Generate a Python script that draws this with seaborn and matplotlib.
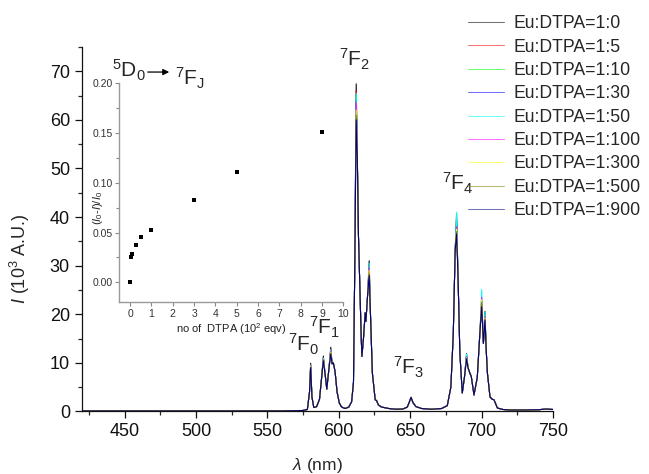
import numpy as np
import pandas as pd
import matplotlib
matplotlib.use("Agg")
import matplotlib.pyplot as plt
import seaborn as sns
from matplotlib.ticker import MultipleLocator

# -----------------------------
# data
# -----------------------------
ratios = ["1:0", "1:5", "1:10", "1:30", "1:50", "1:100", "1:300", "1:500", "1:900"]
colors = ["#000000", "#ff0000", "#00ff00", "#0000ff", "#00ffff",
          "#ff00ff", "#ffff00", "#808000", "#000080"]

# emission spectrum of Eu:DTPA=1:0 (wavelength nm, intensity 10^3 A.U.)
wl = [420, 440, 460, 480, 500, 520, 540, 560, 570, 575, 578, 579.5, 580.3, 581.2,
      582.5, 584.5, 586.5, 588.0, 589.2, 590.5, 591.6, 593.0, 594.4, 595.3, 596.2,
      597.4, 598.8, 600.4, 602.0, 604.4, 607.0, 609.0, 610.3, 611.2, 612.2, 613.0,
      613.8, 615.7, 616.2, 617.3, 618.5, 619.0, 620.2, 621.3, 622.2, 623.5, 625.5,
      626.5, 627.8, 630, 635, 640, 645, 648, 649.5, 650.6, 652, 654, 658, 665, 672,
      676, 678.5, 680.2, 681.5, 682.5, 683.5, 684.8, 686.5, 688.0, 689.5, 690.5,
      691.8, 692.8, 694.7, 697.0, 698.8, 700.1, 701.3, 702.4, 703.2, 704.1, 705.9,
      707.5, 708.7, 711.1, 715, 720, 730, 740, 745, 750]
i_ref = [0.1, 0.1, 0.1, 0.1, 0.1, 0.1, 0.1, 0.1, 0.15, 0.2, 0.4, 4.0, 9.9, 3.0,
         0.8, 1.0, 2.5, 7.0, 11.4, 7.5, 4.6, 8.5, 13.2, 9.8, 10.0,
         8.2, 4.0, 1.7, 0.9, 0.6, 0.9, 2.0, 6.0, 30.0, 67.4, 52.0,
         36.0, 15.4, 11.3, 15.0, 20.3, 18.5, 24.0, 31.0, 20.0, 8.0, 2.4,
         2.2, 1.3, 0.9, 0.6, 0.45, 0.5, 0.9, 2.0, 2.9, 1.8, 1.0, 0.6, 0.45, 0.6,
         1.2, 5.0, 16.0, 33.0, 40.7, 28.0, 12.0, 3.8, 7.0, 11.9, 9.0,
         7.9, 7.2, 3.4, 7.0, 16.0, 22.0, 14.0, 20.6, 13.0, 7.9, 3.0,
         2.5, 2.4, 0.7, 0.4, 0.3, 0.3, 0.35, 0.5, 0.4]

# peak heights of each sample
peak_wl = [580.3, 589.2, 594.4, 612.2, 621.3, 682.5, 689.5, 700.1, 702.4]
peaks = {
    "1:0":   [9.9, 11.4, 13.2, 67.4, 31.0, 40.7, 11.9, 22.0, 20.6],
    "1:5":   [9.6, 11.0, 12.8, 66.0, 30.0, 39.5, 11.5, 22.5, 20.0],
    "1:10":  [9.5, 10.9, 12.6, 65.0, 29.5, 39.0, 11.4, 23.0, 19.8],
    "1:30":  [9.4, 10.8, 12.5, 64.0, 29.0, 38.5, 11.3, 22.0, 19.5],
    "1:50":  [9.5, 11.0, 12.7, 65.5, 30.5, 41.0, 11.8, 25.1, 20.5],
    "1:100": [9.3, 10.7, 12.4, 63.5, 29.5, 38.0, 11.2, 23.5, 19.5],
    "1:300": [9.2, 10.6, 12.2, 62.0, 29.0, 37.5, 11.0, 23.0, 19.2],
    "1:500": [9.1, 10.5, 12.0, 61.0, 28.5, 37.0, 10.9, 22.5, 19.0],
    "1:900": [9.0, 10.4, 11.8, 60.0, 28.0, 36.5, 10.8, 21.5, 18.8],
}

# inset: quenching vs DTPA amount
dtpa = [0, 0.05, 0.1, 0.3, 0.5, 1, 3, 5, 9]
quench = [0.0, 0.025, 0.028, 0.037, 0.046, 0.053, 0.083, 0.111, 0.151]

# -----------------------------
# build long table
# -----------------------------
rows = []
for r in ratios:
    vals = list(i_ref)
    for w, p in zip(peak_wl, peaks[r]):
        vals[wl.index(w)] = p
    for w, v in zip(wl, vals):
        rows.append({"wl": w, "I": v, "ratio": "Eu:DTPA=" + r})
df = pd.DataFrame(rows)

# -----------------------------
# style
# -----------------------------
sns.set_style("ticks")
plt.rcParams["font.family"] = ["Liberation Sans", "DejaVu Sans"]
plt.rcParams["mathtext.fontset"] = "custom"
plt.rcParams["mathtext.rm"] = "Liberation Sans"
plt.rcParams["mathtext.it"] = "Liberation Sans:italic"

fig = plt.figure(figsize=(6.49, 4.74), dpi=100)
ax = fig.add_axes([0.126, 0.132, 0.726, 0.769])

sns.lineplot(data=df, x="wl", y="I", hue="ratio", palette=colors,
             estimator=None, sort=False, linewidth=0.75, ax=ax)

ax.set_xlim(420, 750)
ax.set_ylim(0, 75)
ax.xaxis.set_major_locator(MultipleLocator(50))
ax.xaxis.set_minor_locator(MultipleLocator(25))
ax.yaxis.set_major_locator(MultipleLocator(10))
ax.yaxis.set_minor_locator(MultipleLocator(5))
ax.tick_params(which="major", direction="out", length=5, width=0.9, labelsize=13, colors="#111111")
ax.tick_params(which="minor", direction="out", length=3, width=0.9)
for s in ["top", "right"]:
    ax.spines[s].set_visible(False)
for s in ["left", "bottom"]:
    ax.spines[s].set_linewidth(0.9)
    ax.spines[s].set_color("#111111")

ax.set_xlabel(r"$\lambda$ (nm)", fontsize=12.5)
ax.set_ylabel(r"$I$ (10$^3$ A.U.)", fontsize=13)
ax.xaxis.set_label_coords(0.5, -0.123)
ax.yaxis.set_label_coords(-0.106, 0.42)

# peak assignments
ax.text(575.6, 12.3, r"$^7$F$_0$", fontsize=15, ha="center")
ax.text(590, 15.8, r"$^7$F$_1$", fontsize=15, ha="center")
ax.text(611, 70.9, r"$^7$F$_2$", fontsize=15, ha="center")
ax.text(648.7, 7.7, r"$^7$F$_3$", fontsize=15, ha="center")
ax.text(683.2, 45.4, r"$^7$F$_4$", fontsize=15, ha="center")

handles, labels = ax.get_legend_handles_labels()
ax.get_legend().remove()
for h in handles:
    h.set_alpha(0.55)
fig.legend(handles, labels, loc="upper left", bbox_to_anchor=(0.705, 0.99),
           frameon=False, fontsize=12.7, handlelength=2.05, handletextpad=0.55,
           labelspacing=0.36, borderaxespad=0.2)

# -----------------------------
# inset
# -----------------------------
axi = fig.add_axes([0.184, 0.362, 0.345, 0.4635])
sns.scatterplot(x=dtpa, y=quench, marker="s", s=9, color="black",
                edgecolor="black", linewidth=0, ax=axi)
axi.set_facecolor("none")
axi.set_xlim(-0.5, 10)
axi.set_ylim(-0.02, 0.20)
axi.xaxis.set_major_locator(MultipleLocator(1))
axi.yaxis.set_major_locator(MultipleLocator(0.05))
axi.yaxis.set_minor_locator(MultipleLocator(0.025))
axi.yaxis.set_major_formatter(matplotlib.ticker.FormatStrFormatter("%.2f"))
axi.tick_params(which="major", direction="out", length=3, width=0.8, labelsize=7.5,
                color="#888888", labelcolor="#333333", pad=2)
axi.tick_params(which="minor", direction="out", length=2, width=0.8, color="#888888")
for s in ["top", "right"]:
    axi.spines[s].set_visible(False)
for s in ["left", "bottom"]:
    axi.spines[s].set_color("#999999")
    axi.spines[s].set_linewidth(1.0)
axi.set_xlabel(r"no of  DTPA (10$^2$ eqv)", fontsize=8, color="#222222")
axi.set_ylabel(r"$(I_0$-$I)/I_0$", fontsize=8, color="#222222")
axi.yaxis.set_label_coords(-0.064, 0.43)
axi.xaxis.set_label_coords(0.5, -0.085)

fig.text(0.172, 0.852, r"$^5$D$_0$", fontsize=15, ha="left", va="center")
fig.text(0.269, 0.835, r"$^7$F$_\mathrm{J}$", fontsize=15, ha="left", va="center")
fig.patches.append(matplotlib.patches.FancyArrowPatch(
    (0.2234, 0.848), (0.265, 0.848), transform=fig.transFigure,
    arrowstyle="-|>", mutation_scale=9, linewidth=0.9, color="black"))

fig.savefig("out.png", dpi=100)
